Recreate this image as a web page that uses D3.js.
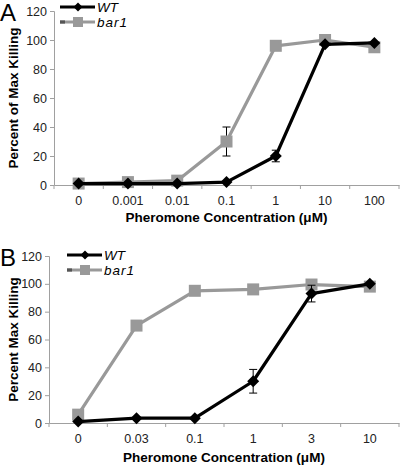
<!DOCTYPE html>
<html><head><meta charset="utf-8">
<script src="https://cdn.jsdelivr.net/npm/d3@7"></script>
<style>body{margin:0;background:#fff}svg{display:block;font-family:"Liberation Sans",Arial,sans-serif}</style>
</head><body>
<svg id="c" width="400" height="465"></svg>
<script>
const catsA = ["0","0.001","0.01","0.1","1","10","100"];
const wtA = [1,1,1,2,20,97,98];
const wtAErr = [0,0,0,0,4,0,0];
const barA = [1,2,3,30,96,100,95];
const barAErr = [0,0,0,10,0,0,0];

const catsB = ["0","0.03","0.1","1","3","10"];
const wtB = [1,3.5,3.5,30,93,100];
const wtBErr = [0,0,0,8.5,6,0];
const barB = [6,70,95,96,99.5,98];
const barBErr = [0,0,0,0,0,0];

const yTicks = [0,20,40,60,80,100,120];

const svg = d3.select("#c");
const WT_COL = "#000", BAR_COL = "#999";

function panel(o){
  const g = svg.append("g");
  const x = d3.scaleBand().domain(o.cats).range([o.x0, o.x1]);
  const y = d3.scaleLinear().domain([0,120]).range([o.y0, o.y1]);
  // axes
  const ya = g.append("g").attr("transform",`translate(${o.x0},0)`)
    .call(d3.axisLeft(y).tickValues(yTicks).tickSize(4).tickPadding(3));
  const xa = g.append("g").attr("transform",`translate(0,${o.y0})`)
    .call(d3.axisBottom(x).tickSize(0).tickPadding(11));
  [ya,xa].forEach(a=>{a.select(".domain").attr("stroke","#a0a0a0");
    a.selectAll(".tick line").attr("stroke","#a0a0a0");
    a.selectAll("text").attr("font-size",12.5).attr("fill","#222").attr("font-family","Liberation Sans, Arial, sans-serif");});
  // x boundary ticks
  const bounds = o.cats.map(c=>x(c)).concat([o.x1]);
  g.selectAll(".bt").data(bounds).enter().append("line")
    .attr("x1",d=>d).attr("x2",d=>d).attr("y1",o.y0).attr("y2",o.y0+4).attr("stroke","#a0a0a0");
  const cx = c => x(c)+x.bandwidth()/2;
  const line = d3.line().x((d,i)=>cx(o.cats[i])).y(d=>y(d));
  function series(vals, errs, col, shape){
    g.append("path").datum(vals).attr("d",line).attr("fill","none").attr("stroke",col).attr("stroke-width",3.2).attr("stroke-linejoin","round");
    vals.forEach((v,i)=>{
      if(errs[i]>0){
        const xx = cx(o.cats[i]);
        g.append("line").attr("x1",xx).attr("x2",xx).attr("y1",y(v-errs[i])).attr("y2",y(v+errs[i])).attr("stroke","#000").attr("stroke-width",1);
        [v-errs[i],v+errs[i]].forEach(e=>g.append("line").attr("x1",xx-4).attr("x2",xx+4).attr("y1",y(e)).attr("y2",y(e)).attr("stroke","#000").attr("stroke-width",1));
      }
    });
    vals.forEach((v,i)=>{
      const xx = cx(o.cats[i]), yy = y(v);
      if(shape==="d") g.append("path").attr("d",`M${xx},${yy-6}L${xx+6},${yy}L${xx},${yy+6}L${xx-6},${yy}Z`).attr("fill",col);
      else g.append("rect").attr("x",xx-6).attr("y",yy-6).attr("width",12).attr("height",12).attr("fill",col);
    });
  }
  series(o.bar, o.barErr, BAR_COL, "s");
  series(o.wt, o.wtErr, WT_COL, "d");
  // legend
  const lx = o.lx, ly = o.ly;
  g.append("line").attr("x1",lx).attr("x2",lx+35).attr("y1",ly).attr("y2",ly).attr("stroke",WT_COL).attr("stroke-width",3.2);
  g.append("path").attr("d",`M${lx+18},${ly-4.5}L${lx+22.5},${ly}L${lx+18},${ly+4.5}L${lx+13.5},${ly}Z`).attr("fill",WT_COL);
  g.append("text").attr("x",lx+37).attr("y",ly+5).attr("font-size",13.5).attr("font-style","italic").text("WT");
  g.append("line").attr("x1",lx).attr("x2",lx+35).attr("y1",ly+15).attr("y2",ly+15).attr("stroke",BAR_COL).attr("stroke-width",3.2);
  g.append("line").attr("x1",lx).attr("x2",lx+5).attr("y1",ly+15).attr("y2",ly+15).attr("stroke","#555").attr("stroke-width",3.2);
  g.append("rect").attr("x",lx+13).attr("y",ly+10).attr("width",10).attr("height",10).attr("fill",BAR_COL);
  g.append("text").attr("x",lx+37).attr("y",ly+20).attr("font-size",13.5).attr("font-style","italic").attr("letter-spacing",1).text("bar1");
  // titles
  g.append("text").attr("x",(o.x0+o.x1)/2).attr("y",o.xtY).attr("text-anchor","middle").attr("font-size",13.5).attr("font-weight","bold").text("Pheromone Concentration (μM)");
  g.append("text").attr("transform",`translate(${o.ytX},${(o.y0+o.y1)/2}) rotate(-90)`).attr("text-anchor","middle").attr("font-size",13.5).attr("font-weight","bold").text(o.ytitle);
  g.append("text").attr("x",0).attr("y",o.y1+10).attr("font-size",24).text(o.letter);
}

panel({cats:catsA, wt:wtA, wtErr:wtAErr, bar:barA, barErr:barAErr,
  x0:54, x1:399, y0:185, y1:11, lx:60, ly:7, xtY:222, ytX:18, ytitle:"Percent of Max Killing", letter:"A"});
panel({cats:catsB, wt:wtB, wtErr:wtBErr, bar:barB, barErr:barBErr,
  x0:49, x1:399, y0:423, y1:256, lx:67, ly:255, xtY:462, ytX:18, ytitle:"Percent Max Killing", letter:"B"});
</script>
</body></html>
